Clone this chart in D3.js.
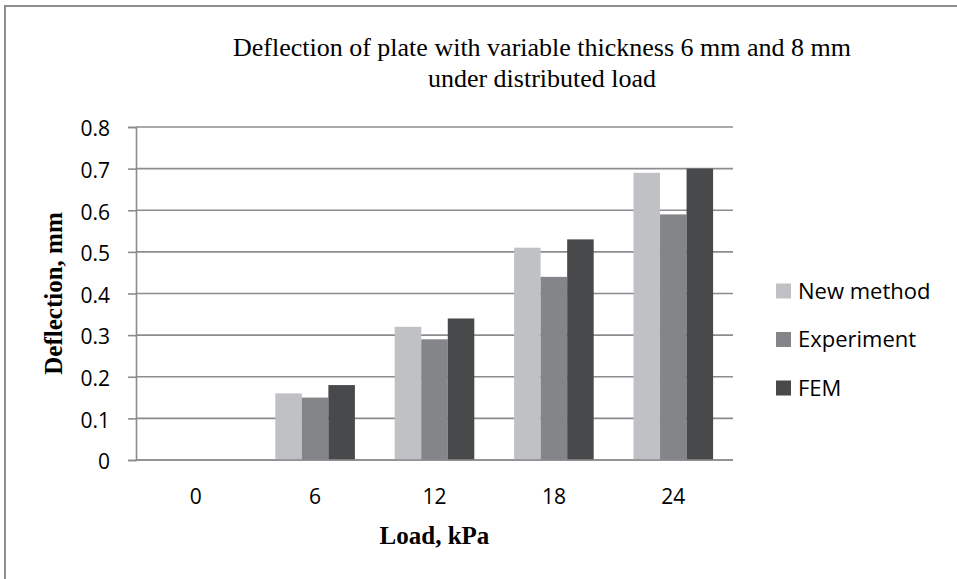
<!DOCTYPE html>
<html>
<head>
<meta charset="utf-8">
<script src="https://cdn.jsdelivr.net/npm/d3@7"></script>
<style>
  html, body { margin: 0; padding: 0; background: #fff; }
  svg { display: block; }
</style>
</head>
<body>
<svg id="chart" width="957" height="579"></svg>
<script>
// Load steps (kPa) and deflections (mm) for the three methods
const loads = ["0", "6", "12", "18", "24"];
const seriesNames = ["New method", "Experiment", "FEM"];
const newMethod = [0, 0.16, 0.32, 0.51, 0.69];
const experiment = [0, 0.15, 0.29, 0.44, 0.59];
const fem = [0, 0.18, 0.34, 0.53, 0.70];
const seriesColors = ["#c0c1c4", "#848589", "#48494b"];
const yTicks = [0, 0.1, 0.2, 0.3, 0.4, 0.5, 0.6, 0.7, 0.8];
const yTickLabels = ["0", "0.1", "0.2", "0.3", "0.4", "0.5", "0.6", "0.7", "0.8"];

const seriesValues = [newMethod, experiment, fem];

const svg = d3.select("#chart");
const W = 957, H = 579;
const plot = { left: 136, right: 733, top: 127, bottom: 460 };

const sansFont = "'Open Sans', sans-serif";
const serifFont = "'Liberation Serif', 'Times New Roman', serif";
const gridColor = "#8c8c8e";

// Chart frame (extends past the right and bottom edges)
svg.append("rect")
  .attr("x", 5).attr("y", 6)
  .attr("width", W + 20).attr("height", H + 20)
  .attr("fill", "#fff")
  .attr("stroke", "#8e8e90")
  .attr("stroke-width", 2);

// Scales
const x = d3.scaleBand()
  .domain(loads)
  .range([plot.left, plot.right])
  .paddingInner(1.5 / 4.5)
  .paddingOuter(0.75 / 4.5);
const xInner = d3.scaleBand()
  .domain(seriesNames)
  .range([0, x.bandwidth()]);
const y = d3.scaleLinear()
  .domain([0, 0.8])
  .range([plot.bottom, plot.top]);

// Horizontal gridlines
svg.append("g")
  .selectAll("line")
  .data(yTicks)
  .join("line")
  .attr("x1", plot.left).attr("x2", plot.right)
  .attr("y1", d => y(d)).attr("y2", d => y(d))
  .attr("stroke", gridColor)
  .attr("stroke-width", 1.6);

// Y axis with outward ticks
const yAxis = d3.axisLeft(y)
  .tickValues(yTicks)
  .tickFormat((d, i) => yTickLabels[i])
  .tickSize(8)
  .tickPadding(18);
const yAxisG = svg.append("g")
  .attr("transform", `translate(${plot.left},0)`)
  .call(yAxis);
yAxisG.select(".domain").attr("stroke", gridColor).attr("stroke-width", 1.6);
yAxisG.selectAll(".tick line").attr("stroke", gridColor).attr("stroke-width", 1.6);
yAxisG.selectAll(".tick text")
  .attr("fill", "#000")
  .attr("dy", "0.42em")
  .style("font-family", sansFont)
  .style("font-size", "21px");

// Bars
const groups = svg.append("g")
  .selectAll("g")
  .data(loads)
  .join("g")
  .attr("transform", d => `translate(${x(d)},0)`);
groups.selectAll("rect")
  .data((d, i) => seriesNames.map((s, k) => ({ s, k, v: seriesValues[k][i] })))
  .join("rect")
  .attr("x", d => xInner(d.s))
  .attr("width", xInner.bandwidth())
  .attr("y", d => y(d.v))
  .attr("height", d => y(0) - y(d.v))
  .attr("fill", d => seriesColors[d.k]);

// X axis baseline drawn over the bars
svg.append("line")
  .attr("x1", plot.left).attr("x2", plot.right)
  .attr("y1", y(0)).attr("y2", y(0))
  .attr("stroke", gridColor)
  .attr("stroke-width", 1.6);

// Category labels
const xAxis = d3.axisBottom(x).tickSize(0).tickPadding(0);
const xAxisG = svg.append("g")
  .attr("transform", `translate(0,${plot.bottom})`)
  .call(xAxis);
xAxisG.select(".domain").remove();
xAxisG.selectAll(".tick text")
  .attr("fill", "#000")
  .attr("y", 44)
  .attr("dy", 0)
  .style("font-family", sansFont)
  .style("font-size", "21px");

// Title
const title = svg.append("text")
  .attr("x", 542)
  .attr("text-anchor", "middle")
  .style("font-family", serifFont)
  .style("font-size", "26px")
  .attr("fill", "#000");
title.append("tspan").attr("x", 542).attr("y", 56)
  .text("Deflection of plate with variable thickness 6 mm and 8 mm");
title.append("tspan").attr("x", 542).attr("y", 87)
  .text("under distributed load");

// Axis titles
svg.append("text")
  .attr("x", (plot.left + plot.right) / 2)
  .attr("y", 544)
  .attr("text-anchor", "middle")
  .style("font-family", serifFont)
  .style("font-size", "25px")
  .style("font-weight", "bold")
  .attr("fill", "#000")
  .text("Load, kPa");

svg.append("text")
  .attr("transform", `translate(62,${(plot.top + plot.bottom) / 2}) rotate(-90)`)
  .attr("text-anchor", "middle")
  .style("font-family", serifFont)
  .style("font-size", "25px")
  .style("font-weight", "bold")
  .attr("fill", "#000")
  .text("Deflection, mm");

// Legend
const legend = svg.append("g")
  .selectAll("g")
  .data(seriesNames)
  .join("g")
  .attr("transform", (d, i) => `translate(776,${291 + i * 48.5})`);
legend.append("rect")
  .attr("x", 0).attr("y", -7.5)
  .attr("width", 15).attr("height", 15)
  .attr("fill", (d, i) => seriesColors[i]);
legend.append("text")
  .attr("x", 22)
  .attr("y", 0)
  .attr("dy", "0.36em")
  .style("font-family", sansFont)
  .style("font-size", "22px")
  .attr("fill", "#000")
  .text(d => d);
</script>
</body>
</html>
